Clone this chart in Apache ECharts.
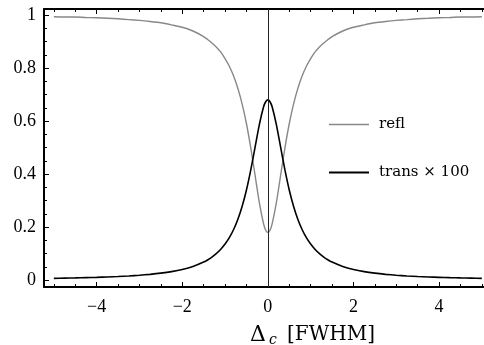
<!DOCTYPE html>
<html>
<head>
<meta charset="utf-8">
<style>
  html, body { margin: 0; padding: 0; background: #fff; }
  #chart { width: 484px; height: 345px; }
</style>
<script src="https://cdn.jsdelivr.net/npm/echarts@6/dist/echarts.min.js"></script>
</head>
<body>
<div id="chart"></div>
<script>
// Detuning in units of the cavity linewidth (FWHM)
const detuning = [
  -5, -4.75, -4.5, -4.25, -4, -3.75, -3.5, -3.25, -3, -2.75, -2.5, -2.25, -2, -1.75, -1.5,
  -1.4, -1.3, -1.2, -1.1, -1, -0.9, -0.8, -0.7, -0.6, -0.5, -0.4, -0.3, -0.2, -0.1, -0.05,
  0,
  0.05, 0.1, 0.2, 0.3, 0.4, 0.5, 0.6, 0.7, 0.8, 0.9, 1, 1.1, 1.2, 1.3, 1.4,
  1.5, 1.75, 2, 2.25, 2.5, 2.75, 3, 3.25, 3.5, 3.75, 4, 4.25, 4.5, 4.75, 5
];

// Reflected power (fraction)
const refl = [
  0.994, 0.993, 0.993, 0.991, 0.990, 0.988, 0.986, 0.983, 0.980, 0.976, 0.971, 0.963, 0.954, 0.940, 0.919,
  0.907, 0.894, 0.879, 0.860, 0.836, 0.807, 0.770, 0.723, 0.664, 0.590, 0.500, 0.397, 0.293, 0.212, 0.188,
  0.180,
  0.188, 0.212, 0.293, 0.397, 0.500, 0.590, 0.664, 0.723, 0.770, 0.807, 0.836, 0.860, 0.879, 0.894, 0.907,
  0.919, 0.940, 0.954, 0.963, 0.971, 0.976, 0.980, 0.983, 0.986, 0.988, 0.990, 0.991, 0.993, 0.993, 0.994
];

// Transmitted power, scaled by 100
const trans = [
  0.0067, 0.0075, 0.0083, 0.0093, 0.0105, 0.0119, 0.0136, 0.0157, 0.0184, 0.0218, 0.0262, 0.032, 0.040, 0.0513, 0.068,
  0.0769, 0.0876, 0.1006, 0.1164, 0.136, 0.160, 0.191, 0.230, 0.279, 0.340, 0.415, 0.500, 0.586, 0.654, 0.673,
  0.680,
  0.673, 0.654, 0.586, 0.500, 0.415, 0.340, 0.279, 0.230, 0.191, 0.160, 0.136, 0.1164, 0.1006, 0.0876, 0.0769,
  0.068, 0.0513, 0.040, 0.032, 0.0262, 0.0218, 0.0184, 0.0157, 0.0136, 0.0119, 0.0105, 0.0093, 0.0083, 0.0075, 0.0067
];

const xMajorTicks = [-4, -2, 0, 2, 4];
const xMinorTicks = [-5, -4.5, -4, -3.5, -3, -2.5, -2, -1.5, -1, -0.5, 0, 0.5, 1, 1.5, 2, 2.5, 3, 3.5, 4, 4.5, 5];
const yMajorTicks = [0, 0.2, 0.4, 0.6, 0.8, 1];
const yMinorTicks = [0, 0.05, 0.1, 0.15, 0.2, 0.25, 0.3, 0.35, 0.4, 0.45, 0.5, 0.55, 0.6, 0.65, 0.7, 0.75, 0.8, 0.85, 0.9, 0.95, 1];

const X_MIN = -5.23, X_MAX = 5.05, Y_MIN = -0.026, Y_MAX = 1.023;
const tickFont = { fontFamily: 'Liberation Serif', fontSize: 18, color: '#000' };

function fmt(v) {
  if (v === 0) return '0';
  const s = String(Math.abs(v));
  return (v < 0 ? '\u2212' : '') + s;
}

function xAxisDef(position, ticks, len, showLabel, showLine) {
  return {
    type: 'value', position: position, min: X_MIN, max: X_MAX,
    axisLine: { show: showLine, onZero: false, lineStyle: { color: '#000', width: 2 } },
    axisTick: { show: true, inside: true, length: len, customValues: ticks, lineStyle: { color: '#000', width: 1 } },
    axisLabel: { show: showLabel, customValues: ticks, margin: 11, formatter: fmt, ...tickFont },
    splitLine: { show: false }
  };
}
function yAxisDef(ticks, len, showLabel, showLine) {
  return {
    type: 'value', position: 'left', min: Y_MIN, max: Y_MAX,
    axisLine: { show: showLine, onZero: false, lineStyle: { color: '#000', width: 2 } },
    axisTick: { show: true, inside: true, length: len, customValues: ticks, lineStyle: { color: '#000', width: 1 } },
    axisLabel: { show: showLabel, customValues: ticks, margin: 8, formatter: fmt, ...tickFont },
    splitLine: { show: false }
  };
}

const pairs = (ys) => detuning.map((x, i) => [x, ys[i]]);

const chart = echarts.init(document.getElementById('chart'), null, { renderer: 'canvas' });
chart.setOption({
  animation: false,
  backgroundColor: '#fff',
  grid: { left: 44, right: 0, top: 9, bottom: 58, containLabel: false },
  xAxis: [
    xAxisDef('bottom', xMajorTicks, 5, true, true),
    xAxisDef('bottom', xMinorTicks, 3, false, false),
    xAxisDef('top', xMajorTicks, 5, false, true),
    xAxisDef('top', xMinorTicks, 3, false, false)
  ],
  yAxis: [
    yAxisDef(yMajorTicks, 5, true, true),
    yAxisDef(yMinorTicks, 3, false, false)
  ],
  legend: {
    orient: 'vertical', left: 329, top: 117, padding: 0,
    itemWidth: 40, itemHeight: 14, itemGap: 33,
    textStyle: { fontFamily: 'DejaVu Serif', fontSize: 15, color: '#000', padding: [0, 0, 0, 5] },
    data: [
      { name: 'refl', icon: 'path://M0,0H40V1.3H0Z' },
      { name: 'trans \u00d7 100', icon: 'path://M0,0H40V2H0Z' }
    ]
  },
  graphic: [
    { type: 'text', left: 250, top: 324, style: { text: '\u0394', font: '22px "DejaVu Serif"', fill: '#000' } },
    { type: 'text', left: 269, top: 333, style: { text: 'c', font: 'italic 14px "DejaVu Serif"', fill: '#000' } },
    { type: 'text', left: 287, top: 325, style: { text: '[FWHM]', font: '20px "DejaVu Serif"', fill: '#000' } }
  ],
  series: [
    {
      name: 'refl', type: 'line', data: pairs(refl), xAxisIndex: 0, yAxisIndex: 0,
      smooth: 0.25, symbol: 'none',
      lineStyle: { color: '#888', width: 1.4 }, itemStyle: { color: '#888' },
      markLine: {
        silent: true, symbol: 'none', label: { show: false },
        lineStyle: { color: '#222', width: 1, type: 'solid' },
        data: [{ xAxis: 0 }]
      }
    },
    {
      name: 'trans \u00d7 100', type: 'line', data: pairs(trans), xAxisIndex: 0, yAxisIndex: 0,
      smooth: 0.25, symbol: 'none',
      lineStyle: { color: '#000', width: 1.6 }, itemStyle: { color: '#000' }
    }
  ]
});
</script>
</body>
</html>
